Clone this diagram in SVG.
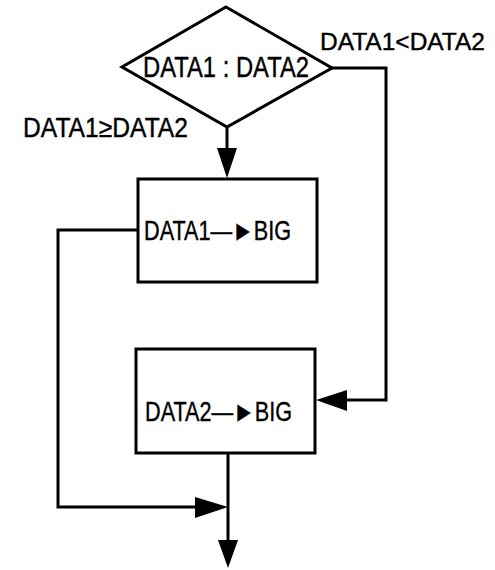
<svg xmlns="http://www.w3.org/2000/svg" width="495" height="570" viewBox="0 0 495 570">
  <defs>
    <style>
      .shape { fill: #ffffff; stroke: #000000; stroke-width: 3; stroke-linejoin: miter; }
      .wire { fill: none; stroke: #000000; stroke-width: 3; }
      .head { fill: #000000; stroke: none; }
      .lbl { font-family: "Liberation Sans", Arial, sans-serif; fill: #000000; stroke: #000000; stroke-width: 0.4; }
      .big { font-size: 28px; }
      .cond { font-size: 29px; }
      .edge { font-size: 27px; }
      .edge-r { font-size: 24px; }
    </style>
  </defs>
  <rect width="495" height="570" fill="#ffffff"/>

  <!-- connectors -->
  <g id="connectors">
    <!-- decision to DATA1->BIG -->
    <line class="wire" x1="227" y1="127" x2="227" y2="150"/>
    <polygon class="head" points="217,148 237,148 227,178"/>
    <!-- DATA1 < DATA2 branch to DATA2->BIG -->
    <polyline class="wire" points="332,68 386,68 386,400 345,400"/>
    <polygon class="head" points="347,390 347,411 316,400"/>
    <!-- DATA1->BIG around to the merge point -->
    <polyline class="wire" points="138,230 58,230 58,507 197,507"/>
    <polygon class="head" points="195,497 195,518 228,507"/>
    <!-- DATA2->BIG down to exit -->
    <line class="wire" x1="228" y1="453" x2="228" y2="542"/>
    <polygon class="head" points="218,540 238,540 228,568"/>
  </g>

  <g id="decision">
    <polygon class="shape" points="226,7 332,68 227,127 122,67"/>
    <text class="lbl cond" x="143" y="77" textLength="166" lengthAdjust="spacingAndGlyphs">DATA1 : DATA2</text>
  </g>

  <g id="label-ge">
    <text class="lbl edge" x="23" y="137" textLength="165" lengthAdjust="spacingAndGlyphs">DATA1≥DATA2</text>
  </g>

  <g id="label-lt">
    <text class="lbl edge-r" x="320" y="50" textLength="165" lengthAdjust="spacingAndGlyphs">DATA1&lt;DATA2</text>
  </g>

  <g id="big-data1">
    <rect class="shape" x="138" y="179" width="179" height="103"/>
    <text class="lbl big" x="144" y="240" textLength="147" lengthAdjust="spacingAndGlyphs">DATA1—►BIG</text>
  </g>

  <g id="big-data2">
    <rect class="shape" x="136" y="349" width="179" height="104"/>
    <text class="lbl big" x="145" y="421" textLength="147" lengthAdjust="spacingAndGlyphs">DATA2—►BIG</text>
  </g>
</svg>
